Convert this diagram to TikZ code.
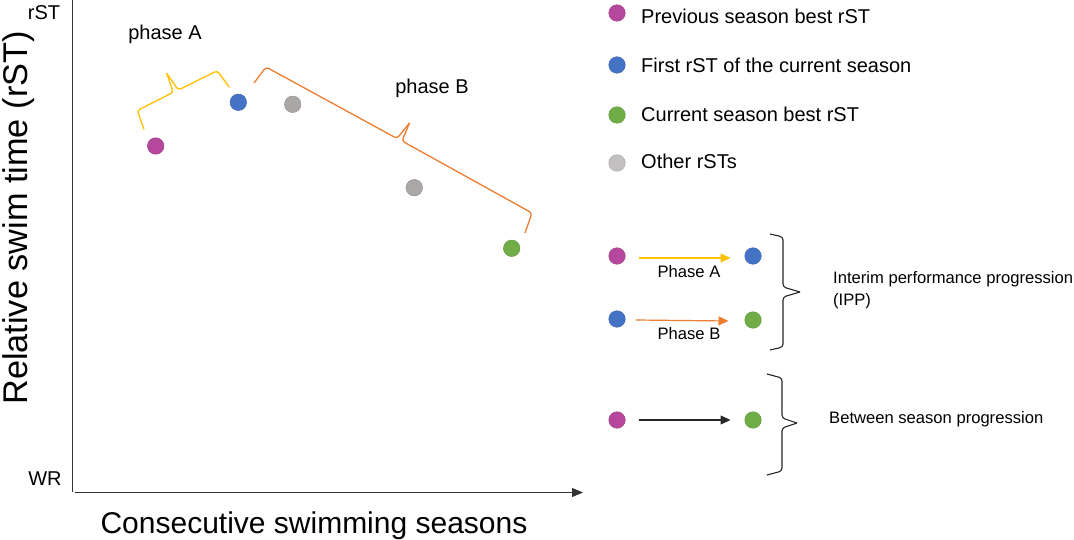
\documentclass[tikz,border=0pt]{standalone}
\usepackage{fontspec}
\setmainfont{Liberation Sans}
\usetikzlibrary{arrows.meta}
\definecolor{cmag}{HTML}{B5489C}
\definecolor{cblue}{HTML}{4472C4}
\definecolor{cgreen}{HTML}{70AD47}
\definecolor{cgrayL}{HTML}{C2C0C0}
\definecolor{cgrayP}{HTML}{ABA7A7}
\definecolor{cyel}{HTML}{FFC000}
\definecolor{corg}{HTML}{ED7D31}
\begin{document}
\begin{tikzpicture}[x=1pt,y=-1pt,
  dot/.style={circle, inner sep=0pt, minimum width=16pt, minimum height=16.5pt, fill=#1, draw=#1!88!black, line width=0.5pt},
  lbl/.style={inner sep=0pt, anchor=base},
  legtxt/.style={inner sep=0pt, anchor=base west, font=\fontsize{20}{24}\selectfont},
  smalltxt/.style={inner sep=0pt, font=\fontsize{16.6}{21}\selectfont},
  axis/.style={line width=0.9pt, black!80},
  bracestyle/.style={line width=1.3pt, rounded corners=3pt, line join=round},
  arr/.style={line width=1.4pt, -{Triangle[length=10pt,width=9pt]}}
]
\useasboundingbox (0,0) rectangle (1074,540);

% axes
\coordinate (ytop) at (72.7,0);
\coordinate (ybot) at (72.7,492);
\coordinate (xstart) at (75,492.5);
\coordinate (xend) at (583,492.5);
\draw[axis] (ytop) -- (ybot);
\draw[axis, -{Triangle[length=11pt,width=9pt]}] (xstart) -- (xend);

\node[lbl, font=\fontsize{20}{24}\selectfont] (rst) at (44,20) {rST};
\node[lbl, font=\fontsize{20}{24}\selectfont] (wr) at (45,485) {WR};
\node[lbl, rotate=90, font=\fontsize{34.3}{40}\selectfont] (ylab) at (27.5,218) {Relative swim time (rST)};
\node[lbl, font=\fontsize{30}{36}\selectfont] (xlab) at (314,533) {Consecutive swimming seasons};

% plot dots
\node[dot=cmag] (p1) at (155.7,146) {};
\node[dot=cblue] (p2) at (238.3,102.3) {};
\node[dot=cgrayP] (p3) at (292.7,104.3) {};
\node[dot=cgrayP] (p4) at (414.3,187.7) {};
\node[dot=cgreen] (p5) at (511.7,248.3) {};

% phase labels
\node[lbl, font=\fontsize{20}{24}\selectfont] (phA) at (165,40) {phase A};
\node[lbl, font=\fontsize{20}{24}\selectfont] (phB) at (432,93.3) {phase B};

% phase A brace (yellow)
\draw[bracestyle, cyel] (144,129.3) -- (137.3,110.5) -- (173.3,92.3) -- (166.7,73.3);
\draw[bracestyle, cyel] (166.7,73.3) -- (178.3,90) -- (217.3,70.7) -- (229.3,87.3);

% phase B brace (orange)
\draw[bracestyle, corg] (254,83) -- (266,67) -- (397,138.5) -- (409.5,123);
\draw[bracestyle, corg] (409.5,123) -- (402,141) -- (532,213) -- (525,233);

% legend
\node[dot=cmag, minimum width=15pt] (l1) at (617,13) {};
\node[dot=cblue, minimum width=15pt] (l2) at (617,65) {};
\node[dot=cgreen, minimum width=15pt] (l3) at (617,115) {};
\node[dot=cgrayL, minimum width=15pt] (l4) at (617,163) {};
\node[legtxt] (t1) at (641,24) {Previous season best rST};
\node[legtxt] (t2) at (641,72.7) {First rST of the current season};
\node[legtxt] (t3) at (641,121.7) {Current season best rST};
\node[legtxt] (t4) at (641,169) {Other rSTs};

% progression rows
\node[dot=cmag] (a1) at (617,256) {};
\node[dot=cblue] (a2) at (753,256) {};
\node[dot=cblue] (b1) at (617,319) {};
\node[dot=cgreen] (b2) at (753,320) {};
\node[dot=cmag] (c1) at (617,420) {};
\node[dot=cgreen] (c2) at (753,420) {};

\draw[arr, cyel, line width=1.2pt] ([yshift=-2pt]a1.east) ++(13,0) coordinate (a1s) -- ([yshift=-2pt,xshift=-14pt]a2.west);
\draw[arr, corg, line width=1.2pt] ([yshift=-1pt,xshift=10pt]b1.east) -- ([yshift=-1pt,xshift=-16pt]b2.west);
\draw[arr, black!85, line width=1.1pt] ([xshift=13pt]c1.east) -- ([xshift=-14pt]c2.west);

\node[smalltxt, anchor=base] (la) at (689,277.3) {Phase A};
\node[smalltxt, anchor=base] (lb) at (689,339) {Phase B};

% right braces
\draw[line width=1.1pt, black!85, rounded corners=3pt] (770,234) -- (783,237) -- (783,287) -- (800,292);
\draw[line width=1.1pt, black!85, rounded corners=3pt] (800,292) -- (783,297) -- (783,347) -- (770,350);
\draw[line width=1.1pt, black!85, rounded corners=3pt] (767,374) -- (782,378) -- (782,418) -- (797,423);
\draw[line width=1.1pt, black!85, rounded corners=3pt] (797,423) -- (782,428) -- (782,471) -- (767,475);

\node[smalltxt, anchor=north west, align=left] (ipp) at (833,271.5) {Interim performance progression\\[0.5pt](IPP)};
\node[smalltxt, anchor=base west] (bsp) at (829,423.3) {Between season progression};
\end{tikzpicture}
\end{document}
